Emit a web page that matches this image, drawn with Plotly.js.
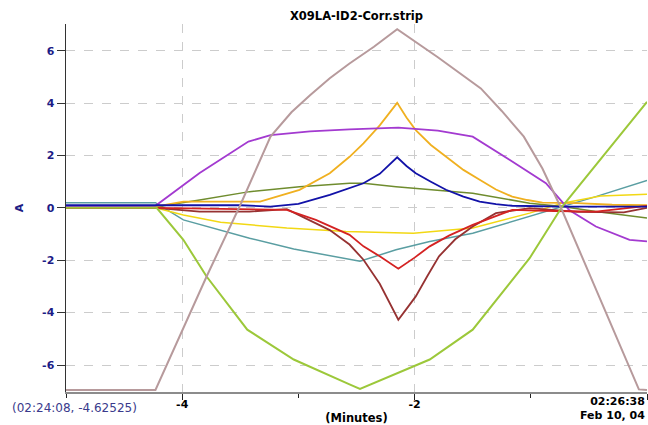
<!DOCTYPE html>
<html>
<head>
<meta charset="utf-8">
<script src="https://cdn.plot.ly/plotly-3.0.1.min.js"></script>
<style>html,body{margin:0;padding:0;background:#fff;}#chart{width:648px;height:425px;}</style>
</head>
<body>
<div id="chart"></div>
<script>
// Time axis (minutes before 02:26:38) and current values (A)
const rosyX = [-5, -4.23, -3.79, -3.5, -3.24, -3.06, -2.9, -2.73, -2.56, -2.35, -2.15, -1.8, -1.43, -1.25, -1.06, -0.9, -0.73, -0.4, -0.07, 0];
const rosyY = [-6.95, -6.95, -2.62, 0.11, 2.72, 3.65, 4.3, 4.95, 5.51, 6.15, 6.82, 5.75, 4.56, 3.7, 2.72, 1.5, -0.1, -3.5, -6.93, -6.95];

const purpleX = [-5, -4.23, -3.85, -3.43, -3.24, -2.9, -2.56, -2.14, -1.8, -1.5, -1.18, -0.87, -0.67, -0.44, -0.15, 0];
const purpleY = [0.06, 0.08, 1.33, 2.53, 2.78, 2.92, 3.0, 3.06, 2.95, 2.72, 1.83, 0.94, -0.08, -0.71, -1.22, -1.28];

const orangeX = [-5, -4.23, -3.99, -3.33, -2.99, -2.73, -2.56, -2.44, -2.3, -2.15, -2.07, -1.99, -1.86, -1.73, -1.58, -1.44, -1.3, -1.16, -1.03, -0.9, -0.6, -0.3, 0];
const orangeY = [0.05, 0.05, 0.24, 0.24, 0.69, 1.32, 1.95, 2.46, 3.15, 4.01, 3.45, 2.97, 2.4, 1.95, 1.45, 1.07, 0.7, 0.43, 0.3, 0.2, 0.18, 0.12, 0.1];

const blueX = [-5, -4.23, -3.5, -3.24, -3.0, -2.73, -2.56, -2.44, -2.3, -2.15, -2.07, -1.99, -1.86, -1.73, -1.58, -1.44, -1.3, -1.16, -0.7, 0];
const blueY = [0.1, 0.1, 0.1, 0.05, 0.15, 0.5, 0.75, 0.94, 1.3, 1.93, 1.6, 1.32, 1.0, 0.69, 0.43, 0.24, 0.14, 0.08, 0.05, 0.05];

const oliveX = [-5, -4.23, -3.85, -3.42, -2.99, -2.56, -2.44, -2.16, -1.5, -1.01, -0.73, -0.44, 0];
const oliveY = [0, 0.03, 0.3, 0.62, 0.81, 0.94, 0.94, 0.81, 0.56, 0.18, 0.05, -0.14, -0.39];

const tealX = [-5, -4.23, -3.99, -3.42, -3.04, -2.56, -2.47, -2.16, -1.87, -1.5, -1.01, -0.73, -0.44, 0];
const tealY = [0.2, 0.2, -0.46, -1.16, -1.57, -1.95, -2.04, -1.6, -1.28, -0.97, -0.33, 0.05, 0.43, 1.05];

const yellowX = [-5, -4.23, -3.99, -3.67, -3.1, -2.59, -2.01, -1.5, -1.01, -0.73, -0.4, 0];
const yellowY = [0, 0, -0.27, -0.55, -0.77, -0.9, -0.97, -0.77, -0.2, 0.18, 0.45, 0.52];

const redX = [-5, -4.23, -3.8, -3.42, -3.1, -2.85, -2.73, -2.56, -2.44, -2.3, -2.14, -2.0, -1.87, -1.7, -1.5, -1.3, -1.16, -0.8, -0.44, 0];
const redY = [0, 0, -0.03, -0.05, -0.08, -0.46, -0.7, -1.03, -1.47, -1.85, -2.32, -1.9, -1.47, -1.05, -0.65, -0.3, -0.08, -0.12, -0.14, 0.08];

const maroonX = [-5, -4.23, -3.85, -3.42, -3.1, -2.85, -2.73, -2.56, -2.44, -2.3, -2.14, -2.06, -1.99, -1.89, -1.79, -1.65, -1.5, -1.3, -1.01, -0.6, -0.2, 0];
const maroonY = [0, 0, -0.14, -0.14, -0.05, -0.58, -0.85, -1.4, -1.98, -2.9, -4.27, -3.8, -3.38, -2.6, -1.85, -1.2, -0.71, -0.2, -0.01, -0.15, -0.17, 0.0];

const limeX = [-5, -4.22, -3.99, -3.79, -3.44, -3.04, -2.56, -2.47, -1.87, -1.5, -1.01, -0.73, 0];
const limeY = [0, 0, -1.22, -2.62, -4.65, -5.79, -6.74, -6.91, -5.79, -4.65, -1.92, 0.05, 4.05];

const yTickVals = [-6, -4, -2, 0, 2, 4, 6];
const yTickText = ['-6', '-4', '-2', '0', '2', '4', '6'];
const xTickVals = [-4, -2, 0];
const xTickText = ['-4', '-2', ''];

function tr(x, y, color, w) {
  return {x: x, y: y, type: 'scatter', mode: 'lines', line: {color: color, width: w}, hoverinfo: 'skip', showlegend: false};
}

const data = [
  tr(tealX, tealY, '#5a9ea2', 1.5),
  tr(yellowX, yellowY, '#f2d814', 1.5),
  tr(oliveX, oliveY, '#6f8c2e', 1.5),
  tr(orangeX, orangeY, '#f0b020', 1.8),
  tr(purpleX, purpleY, '#a33ad0', 1.8),
  tr(maroonX, maroonY, '#963232', 1.8),
  tr(redX, redY, '#d42222', 1.8),
  tr(blueX, blueY, '#1212a8', 1.8),
  tr(limeX, limeY, '#9cc83a', 2),
  tr(rosyX, rosyY, '#b79a9c', 2)
];

const F = 'DejaVu Sans, sans-serif';
const layout = {
  width: 648, height: 425,
  margin: {l: 66, r: 1, t: 24, b: 33, pad: 0},
  paper_bgcolor: '#ffffff', plot_bgcolor: '#ffffff',
  font: {family: F, size: 10, color: '#000'},
  title: {text: 'X09LA-ID2-Corr.strip', x: 0.5, xanchor: 'center', xref: 'paper', y: 0.962, yanchor: 'middle',
          font: {family: F, size: 11.5, weight: 'bold', color: '#000'}},
  xaxis: {
    range: [-5, 0], tickvals: xTickVals, ticktext: xTickText,
    ticks: 'outside', ticklen: 6, tickcolor: '#222', tickwidth: 1, ticklabelstandoff: -5,
    showline: true, linecolor: '#8c8c8c', linewidth: 2,
    showgrid: true, gridcolor: '#cccccc', griddash: 'dash', gridwidth: 1,
    zeroline: false, automargin: false,
    tickfont: {family: F, size: 11, weight: 'bold', color: '#000'},
    minor: {dtick: 1, tick0: 0, ticks: 'outside', ticklen: 4, tickcolor: '#222', showgrid: false},
    title: {text: '(Minutes)', standoff: 9, font: {family: F, size: 11.5, weight: 'bold', color: '#000'}}
  },
  yaxis: {
    range: [-7.03, 7.02], tickvals: yTickVals, ticktext: yTickText,
    ticks: 'outside', ticklen: 8, tickcolor: '#333', tickwidth: 1,
    showline: true, linecolor: '#333', linewidth: 1.5,
    showgrid: true, gridcolor: '#cccccc', griddash: 'dash', gridwidth: 1,
    zeroline: false, automargin: false,
    tickfont: {family: F, size: 11, weight: 'bold', color: '#1c1c86'},
    title: {text: 'A', standoff: 16, font: {family: F, size: 11, weight: 'bold', color: '#1c1c86'}}
  },
  annotations: [
    {xref: 'paper', yref: 'paper', x: -0.0964, y: -0.0435, xanchor: 'left', yanchor: 'middle', showarrow: false,
     text: '(02:24:08, -4.62525)', font: {family: F, size: 12, color: '#3a3a8c'}},
    {xref: 'paper', yref: 'paper', x: 1.0, y: -0.045, xanchor: 'right', yanchor: 'middle', showarrow: false, align: 'right',
     text: '02:26:38<br>Feb 10, 04', font: {family: F, size: 11, weight: 'bold', color: '#000'}}
  ]
};

Plotly.newPlot('chart', data, layout, {displayModeBar: false, staticPlot: true});
</script>
</body>
</html>
